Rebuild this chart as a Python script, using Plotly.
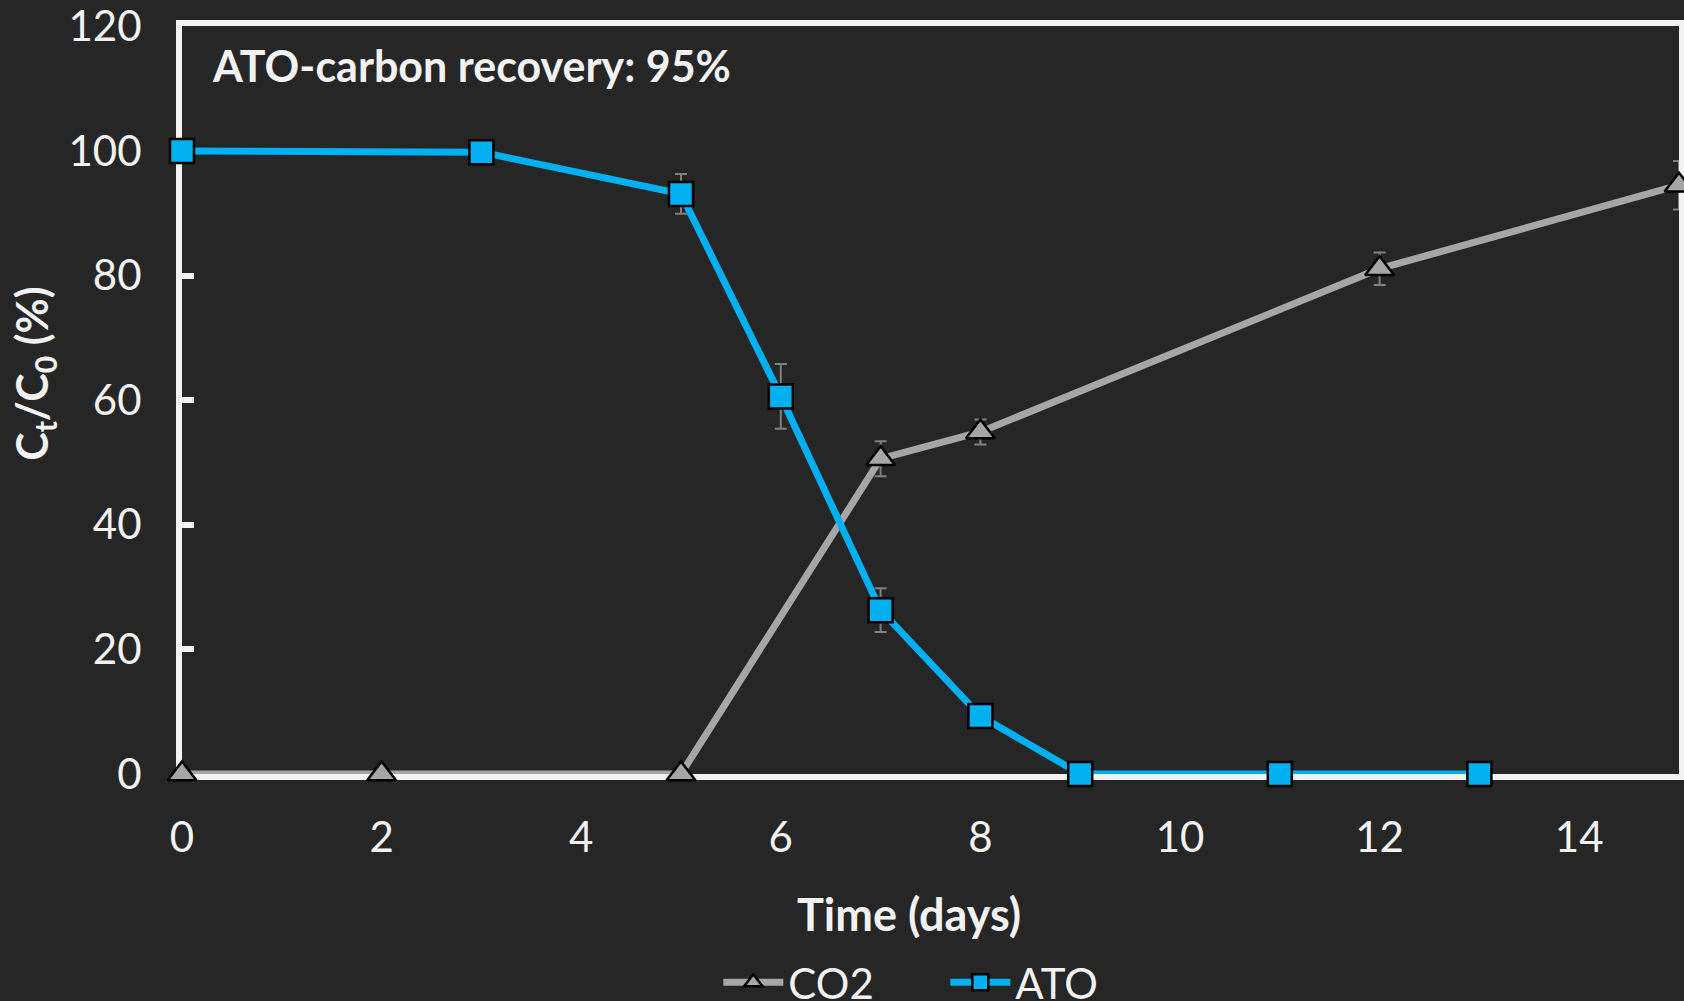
import plotly.graph_objects as go

# Data
co2_days = [0, 2, 5, 7, 8, 12, 15]
co2_vals = [0, 0, 0, 50.6, 54.9, 81.1, 94.5]
co2_err = [0, 0, 0, 2.8, 2.0, 2.6, 3.9]

ato_days = [0, 3, 5, 6, 7, 8, 9, 11, 13]
ato_vals = [100, 99.8, 93.1, 60.6, 26.3, 9.3, 0, 0, 0]
ato_err = [0, 0, 3.2, 5.2, 3.5, 0, 0, 0, 0]

x_ticks = [0, 2, 4, 6, 8, 10, 12, 14]
y_ticks = [0, 20, 40, 60, 80, 100, 120]

BG = "#262626"
FG = "#F2F2F2"
FONT = "Lato"

fig = go.Figure()
fig.add_trace(go.Scatter(
    x=co2_days, y=co2_vals, name="CO2", mode="lines+markers",
    line=dict(color="#A6A6A6", width=7),
    marker=dict(symbol="triangle-up", size=25, color="#A6A6A6",
                line=dict(color="#000000", width=2.5)),
    error_y=dict(type="data", array=co2_err, visible=True,
                 color="#808080", thickness=2, width=6),
    cliponaxis=False,
))
fig.add_trace(go.Scatter(
    x=ato_days, y=ato_vals, name="ATO", mode="lines+markers",
    line=dict(color="#00B0F0", width=7),
    marker=dict(symbol="square", size=24, color="#00B0F0",
                line=dict(color="#000000", width=2.5)),
    error_y=dict(type="data", array=ato_err, visible=True,
                 color="#808080", thickness=2, width=6),
    cliponaxis=False,
))

fig.update_layout(
    width=1684, height=1001,
    paper_bgcolor=BG, plot_bgcolor=BG,
    margin=dict(l=182, r=5, t=26, b=227, autoexpand=False),
    font=dict(family=FONT, color=FG, size=42),
    showlegend=True,
    legend=dict(orientation="h", x=0.5099, xanchor="center",
                y=-0.2787, yanchor="middle",
                font=dict(family=FONT, size=42, color=FG),
                bgcolor="rgba(0,0,0,0)", itemwidth=60,
                entrywidth=152, entrywidthmode="pixels",
                tracegroupgap=0),
    xaxis=dict(range=[0, 15], tickvals=x_ticks, ticktext=[str(v) for v in x_ticks],
               showgrid=False, zeroline=False,
               showline=True, linecolor=FG, linewidth=6, mirror=True,
               ticks="", tickfont=dict(family=FONT, size=42, color=FG),
               ticklabelstandoff=22, layer="below traces"),
    yaxis=dict(range=[0, 120.05], tickvals=y_ticks, ticktext=[str(v) for v in y_ticks],
               showgrid=False, zeroline=False,
               showline=True, linecolor=FG, linewidth=6, mirror=True,
               ticks="inside", ticklen=12, tickwidth=6, tickcolor=FG,
               tickfont=dict(family=FONT, size=42, color=FG),
               ticklabelstandoff=26, layer="below traces"),
    annotations=[
        dict(text="<b>ATO-carbon recovery: 95%</b>", xref="paper", yref="paper",
             x=0.0184, y=0.9466, xanchor="left", yanchor="middle", showarrow=False,
             font=dict(family=FONT, size=43, color=FG)),
        dict(text="<b>Time (days)</b>", xref="paper", yref="paper",
             x=(909 - 182) / 1497, y=(774.4 - 914) / 748.4,
             xanchor="center", yanchor="middle", showarrow=False,
             font=dict(family=FONT, size=45, color=FG)),
        dict(text="<b>C<sub>t</sub>/C<sub>0</sub> (%)</b>", xref="paper", yref="paper",
             x=(35 - 182) / 1497, y=(774.4 - 374) / 748.4, textangle=-90,
             xanchor="center", yanchor="middle", showarrow=False,
             font=dict(family=FONT, size=43, color=FG)),
    ],
)

fig.write_html("out.html", config={"displayModeBar": False},
               post_script="document.body.style.margin='0';document.body.style.overflow='hidden';")
